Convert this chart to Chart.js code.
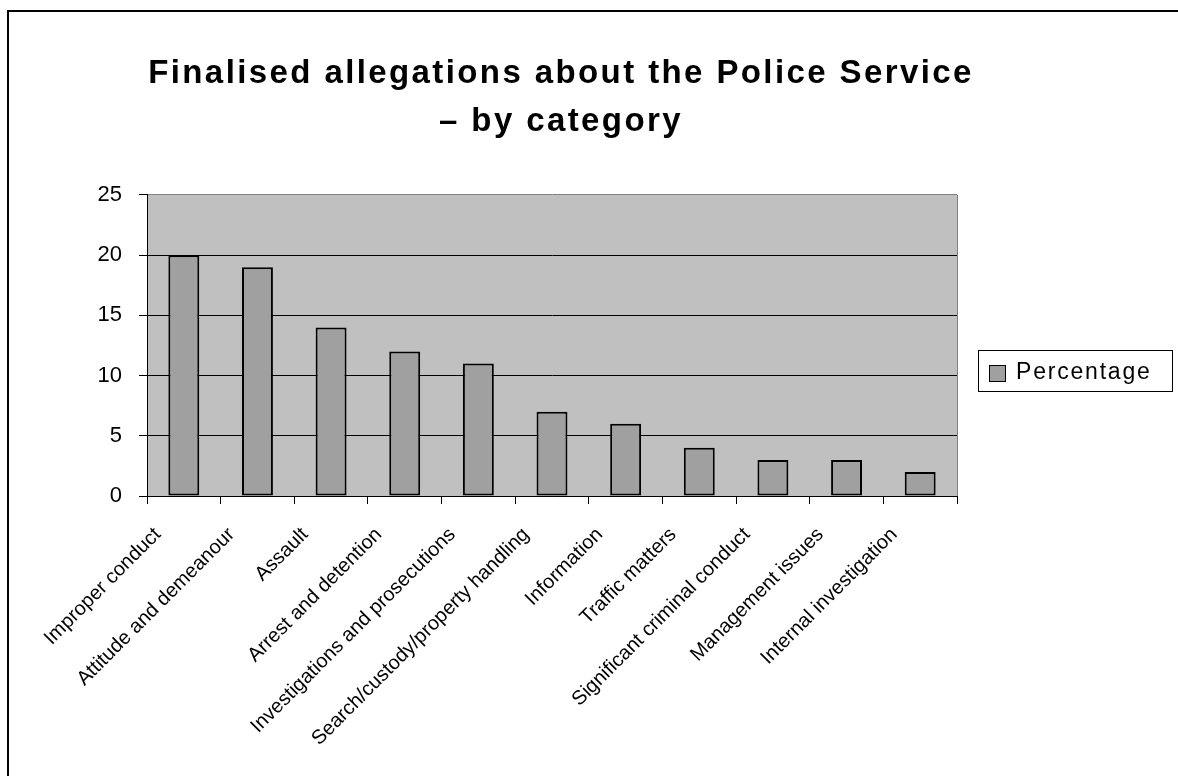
<!DOCTYPE html>
<html><head><meta charset="utf-8">
<script src="https://cdn.jsdelivr.net/npm/chart.js@4"></script>
<style>
html,body{margin:0;padding:0;background:#fff;overflow:hidden;width:1178px;height:776px}
#topline{position:absolute;left:7px;top:10px;width:1171px;height:2px;background:#000}
#leftline{position:absolute;left:7px;top:10px;width:2px;height:766px;background:#000}
#wrap{position:absolute;left:0;top:0;width:1178px;height:776px}
</style></head><body>
<div id="topline"></div><div id="leftline"></div>
<div id="wrap"><canvas id="c" width="1178" height="776"></canvas></div>
<script>
const titleLines = ['Finalised allegations about the Police Service', '\u2013 by category'];
const categories = [
  'Improper conduct',
  'Attitude and demeanour',
  'Assault',
  'Arrest and detention',
  'Investigations and prosecutions',
  'Search/custody/property handling',
  'Information',
  'Traffic matters',
  'Significant criminal conduct',
  'Management issues',
  'Internal investigation'
];
const seriesName = 'Percentage';
const percentages = [20, 19, 14, 12, 11, 7, 6, 4, 3, 3, 2];
const yTickValues = [0, 5, 10, 15, 20, 25];

const FONT = '"Liberation Sans", Arial, Helvetica, sans-serif';
Chart.defaults.font.family = FONT;
Chart.defaults.color = '#000';

const plotBg = {
  id: 'plotBg',
  afterInit(chart) {
    const tb = chart.titleBlock;
    if (tb) {
      const orig = tb.draw.bind(tb);
      tb.draw = function () {
        const c = chart.ctx;
        const prev = c.letterSpacing;
        c.save();
        c.letterSpacing = '2.4px';
        c.translate(561 - (tb.left + tb.right) / 2, 0);
        orig();
        c.restore();
        c.letterSpacing = prev;
      };
    }
  },
  beforeDraw(chart) {
    const { ctx, chartArea: a } = chart;
    ctx.save();
    ctx.fillStyle = '#C0C0C0';
    ctx.fillRect(a.left, a.top, a.right - a.left, a.bottom - a.top);
    ctx.restore();
  },
  beforeDatasetsDraw(chart) {
    const { ctx, chartArea: a } = chart;
    ctx.save();
    ctx.strokeStyle = '#808080';
    ctx.lineWidth = 1;
    ctx.beginPath();
    ctx.moveTo(Math.round(a.right) + 0.5, a.top);
    ctx.lineTo(Math.round(a.right) + 0.5, a.bottom);
    ctx.stroke();
    ctx.restore();
  },
  afterDraw(chart) {
    const { ctx, chartArea: a } = chart;
    const ds = chart.data.datasets[0];
    const x = Math.round(a.right) + 21, y = 350, w = 194, h = 41;
    ctx.save();
    ctx.fillStyle = '#fff';
    ctx.fillRect(x, y, w, h);
    ctx.strokeStyle = '#000';
    ctx.lineWidth = 1;
    ctx.strokeRect(x + 0.5, y + 0.5, w, h);
    ctx.fillStyle = ds.backgroundColor;
    ctx.fillRect(x + 11, y + 15, 17, 17);
    ctx.strokeRect(x + 11.5, y + 15.5, 16, 16);
    ctx.letterSpacing = '1.8px';
    ctx.fillStyle = '#000';
    ctx.font = '23px ' + FONT;
    ctx.textBaseline = 'alphabetic';
    ctx.textAlign = 'left';
    ctx.fillText(ds.label, x + 38, y + 29);
    ctx.restore();
  }
};

new Chart(document.getElementById('c'), {
  type: 'bar',
  data: {
    labels: categories,
    datasets: [{
      label: seriesName,
      data: percentages,
      backgroundColor: '#A0A0A0',
      borderColor: '#000',
      borderWidth: 2,
      borderSkipped: false,
      barPercentage: 0.42,
      categoryPercentage: 1
    }]
  },
  options: {
    responsive: false,
    animation: false,
    devicePixelRatio: 1,
    layout: { padding: { left: 0, right: 221, top: 0, bottom: 0 } },
    plugins: {
      legend: { display: false },
      tooltip: { enabled: false },
      title: {
        display: true,
        text: titleLines,
        color: '#000',
        font: { size: 33, weight: 'bold', family: FONT, lineHeight: 1.4545 },
        padding: { top: 50, bottom: 49 }
      }
    },
    scales: {
      x: {
        offset: true,
        grid: { display: true, drawOnChartArea: false, drawTicks: true, tickLength: 8, color: '#000', offset: true },
        border: { display: true, color: '#000', width: 1 },
        ticks: {
          autoSkip: false, maxRotation: 45, minRotation: 45,
          font: { size: 20, family: FONT }, color: '#000',
          padding: 19, labelOffset: -26
        },
        afterFit(scale) { scale.height = 280; }
      },
      y: {
        min: 0, max: 25,
        afterBuildTicks(scale) { scale.ticks = yTickValues.map(v => ({ value: v })); },
        grid: {
          color: (c) => (c.tick && c.tick.value === 25 ? '#808080' : '#000'),
          tickColor: '#000',
          tickLength: 8, drawTicks: true, lineWidth: 1
        },
        border: { display: true, color: '#000', width: 1 },
        ticks: { font: { size: 22, family: FONT }, color: '#000', padding: 17 },
        afterFit(scale) { scale.width = 147; }
      }
    }
  },
  plugins: [plotBg]
});
</script>
</body></html>
